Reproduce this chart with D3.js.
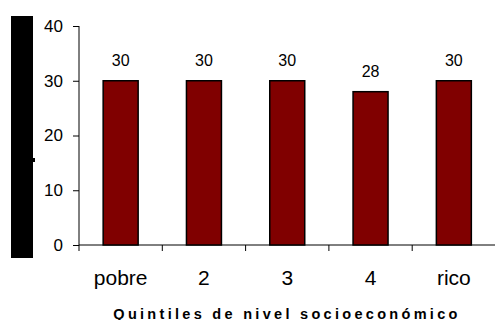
<!DOCTYPE html>
<html>
<head>
<meta charset="utf-8">
<script src="https://cdn.jsdelivr.net/npm/d3@7"></script>
<style>
  html, body { margin: 0; padding: 0; background: #fff; }
  svg { display: block; font-family: "Liberation Sans", Arial, sans-serif; }
</style>
</head>
<body>
<svg id="chart" width="495" height="320"></svg>
<script>
// Quintiles and their values
const categories = ["pobre", "2", "3", "4", "rico"];
const values = [30, 30, 30, 28, 30];
const yTicks = [0, 10, 20, 30, 40];
const xTitle = "Quintiles de nivel socioeconómico";

const svg = d3.select("#chart");
const left = 79;
const bandStep = 83.3;
const xEnd = left + categories.length * bandStep;

const x = d3.scaleBand()
  .domain(categories)
  .range([left, xEnd])
  .paddingInner(0.58)
  .paddingOuter(0.29);

const y = d3.scaleLinear()
  .domain([0, 40])
  .range([245, 26]);

// Solid panel on the left
svg.append("rect")
  .attr("x", 11).attr("y", 16)
  .attr("width", 22).attr("height", 242)
  .attr("fill", "#000");
svg.append("rect")
  .attr("x", 33).attr("y", 158)
  .attr("width", 2).attr("height", 4)
  .attr("fill", "#000");

// Y axis
const yAxis = svg.append("g")
  .attr("transform", `translate(${left},0)`)
  .call(d3.axisLeft(y).tickValues(yTicks).tickSize(6).tickPadding(10).tickFormat(d3.format("d")));
yAxis.select(".domain").attr("stroke", "#000").attr("stroke-width", 1)
  .attr("d", `M0,${y(40)}V${y(0) + 6}`);
yAxis.selectAll(".tick line").attr("stroke", "#000");
yAxis.selectAll(".tick text")
  .attr("font-size", 17)
  .attr("fill", "#000")
  .attr("font-family", "Liberation Sans, Arial, sans-serif");

// X axis: ticks sit between the categories
const xAxisG = svg.append("g").attr("transform", `translate(0,${y(0)})`);
xAxisG.append("line")
  .attr("x1", left).attr("x2", xEnd)
  .attr("y1", 0).attr("y2", 0)
  .attr("stroke", "#000");
const step = x.step();
categories.slice(1).forEach((c) => {
  const tx = x(c) - (step - x.bandwidth()) / 2;
  xAxisG.append("line")
    .attr("x1", tx).attr("x2", tx)
    .attr("y1", 0).attr("y2", 6)
    .attr("stroke", "#000");
});
xAxisG.selectAll("text.cat")
  .data(categories)
  .enter().append("text")
  .attr("class", "cat")
  .attr("x", d => x(d) + x.bandwidth() / 2)
  .attr("y", 40)
  .attr("text-anchor", "middle")
  .attr("font-size", 21)
  .attr("fill", "#000")
  .text(d => d);

// Bars
svg.selectAll("rect.bar")
  .data(values)
  .enter().append("rect")
  .attr("class", "bar")
  .attr("x", (d, i) => x(categories[i]))
  .attr("y", d => y(d))
  .attr("width", x.bandwidth())
  .attr("height", d => y(0) - y(d))
  .attr("fill", "#800000")
  .attr("stroke", "#000")
  .attr("stroke-width", 1.5);

// Value labels
svg.selectAll("text.val")
  .data(values)
  .enter().append("text")
  .attr("class", "val")
  .attr("x", (d, i) => x(categories[i]) + x.bandwidth() / 2)
  .attr("y", d => y(d) - 14.5)
  .attr("text-anchor", "middle")
  .attr("font-size", 16)
  .attr("fill", "#000")
  .text(d => d);

// Axis title
svg.append("text")
  .attr("x", 287)
  .attr("y", 318.5)
  .attr("text-anchor", "middle")
  .attr("font-size", 14.5)
  .attr("font-weight", "bold")
  .attr("letter-spacing", 3.3)
  .attr("fill", "#000")
  .text(xTitle);
</script>
</body>
</html>
